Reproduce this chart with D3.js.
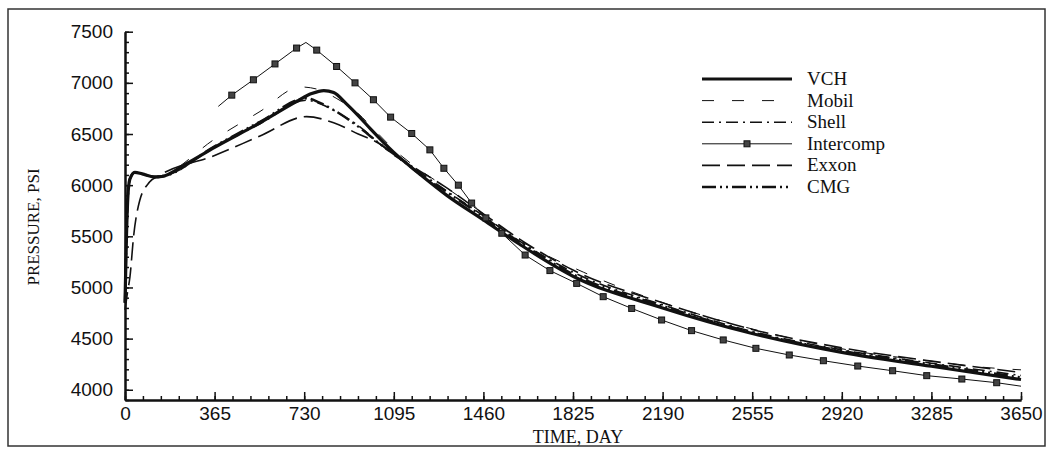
<!DOCTYPE html>
<html>
<head>
<meta charset="utf-8">
<script src="https://cdn.jsdelivr.net/npm/d3@7"></script>
<style>
  body { margin: 0; background: #fff; }
  svg { display: block; }
  .axis path, .axis line { stroke: #111; }
  .axis text { font-family: "Liberation Sans", Arial, sans-serif; font-size: 19px; fill: #111; }
  .title, .legend text { font-family: "Liberation Serif", "Times New Roman", serif; fill: #111; }
</style>
</head>
<body>
<svg id="chart"></svg>
<script>
// data: [day, psi]
const vchData = [[0,4850],[6,5500],[12,5900],[20,6060],[40,6125],[70,6110],[120,6080],[150,6085],
  [250,6210],[365,6370],[550,6610],[700,6820],[760,6895],[810,6925],[850,6905],[900,6800],
  [950,6680],[1000,6550],[1095,6320],[1200,6110],[1311,5900],[1460,5660],[1609,5420],
  [1825,5110],[2190,4800],[2555,4550],[2920,4365],[3285,4230],[3650,4100]]
const mobilData = [[0,4850],[6,5500],[12,5900],[20,6060],[40,6125],[70,6110],[120,6080],[150,6095],
  [365,6450],[550,6720],[715,6960],[780,6940],[860,6850],[950,6700],[1000,6580],[1095,6350],
  [1200,6150],[1300,5990],[1460,5720],[1609,5460],[1867,5150],[2180,4860],[2546,4600],
  [2777,4470],[3006,4365],[3250,4290],[3495,4220],[3650,4195]]
const shellData = [[0,4850],[6,5500],[12,5900],[20,6060],[40,6125],[70,6110],[120,6080],[150,6085],
  [365,6370],[550,6600],[740,6830],[800,6790],[880,6690],[957,6570],[1040,6400],[1120,6270],
  [1200,6130],[1300,5960],[1460,5700],[1609,5450],[1825,5150],[2190,4830],[2555,4570],
  [2920,4390],[3285,4260],[3650,4140]]
const intercompData = [[380,6770],[435,6880],[523,7030],[611,7185],[699,7340],[737,7395],
  [781,7320],[862,7160],[937,7000],[1012,6835],[1082,6665],[1168,6505],[1242,6345],[1299,6165],
  [1358,6000],[1412,5825],[1470,5680],[1535,5530],[1630,5317],[1731,5165],[1840,5040],
  [1948,4910],[2064,4795],[2186,4682],[2308,4578],[2437,4487],[2570,4405],[2706,4340],
  [2845,4284],[2985,4232],[3127,4186],[3266,4138],[3409,4105],[3551,4069],[3650,4035]]
const exxonData = [[0,4780],[10,4950],[20,5100],[35,5500],[60,5850],[100,6030],[140,6095],
  [365,6290],[550,6480],[740,6670],[850,6610],[950,6500],[1040,6400],[1095,6295],[1200,6140],
  [1300,5990],[1460,5720],[1609,5470],[1825,5170],[2190,4850],[2555,4590],[2920,4410],
  [3285,4280],[3650,4170]]
const cmgData = [[0,4850],[6,5500],[12,5900],[20,6060],[40,6125],[70,6110],[120,6080],[150,6085],
  [365,6380],[550,6620],[740,6850],[790,6810],[880,6690],[957,6560],[1040,6400],[1120,6260],
  [1200,6110],[1300,5950],[1460,5690],[1609,5440],[1825,5130],[2190,4820],[2555,4560],
  [2920,4380],[3285,4250],[3650,4120]]

const seriesNames = ['VCH', 'Mobil', 'Shell', 'Intercomp', 'Exxon', 'CMG']
const seriesData = [vchData, mobilData, shellData, intercompData, exxonData, cmgData]
const xTicks = [0, 365, 730, 1095, 1460, 1825, 2190, 2555, 2920, 3285, 3650]
const yTicks = [4000, 4500, 5000, 5500, 6000, 6500, 7000, 7500]

const W = 1053, H = 452
const svg = d3.select('#chart').attr('width', W).attr('height', H)

// scanned page frame
svg.append('rect')
    .attr('x', 8).attr('y', 9).attr('width', 1037).attr('height', 437)
    .attr('fill', 'none').attr('stroke', '#333').attr('stroke-width', 1.5)

const x = d3.scaleLinear().domain([0, 3650]).range([125, 1021])
const y = d3.scaleLinear().domain([3900, 7500]).range([400, 31.7])

// minor ticks
svg.append('g').attr('class', 'axis')
    .attr('transform', 'translate(125,0)')
    .call(d3.axisLeft(y).tickValues(d3.range(3900, 7501, 100)).tickSizeInner(-4).tickSizeOuter(0).tickFormat(''))
svg.append('g').attr('class', 'axis')
    .attr('transform', 'translate(0,400)')
    .call(d3.axisBottom(x).tickValues(d3.range(0, 3651, 73)).tickSizeInner(-4).tickSizeOuter(0).tickFormat(''))

// major axes
svg.append('g').attr('class', 'axis')
    .attr('transform', 'translate(125,0)')
    .call(d3.axisLeft(y).tickValues(yTicks).tickFormat(d3.format('d'))
      .tickSizeInner(-8).tickSizeOuter(0).tickPadding(12))
svg.append('g').attr('class', 'axis')
    .attr('transform', 'translate(0,400)')
    .call(d3.axisBottom(x).tickValues(xTicks).tickFormat(d3.format('d'))
      .tickSizeInner(-8).tickSizeOuter(0).tickPadding(7))

svg.selectAll('.axis path.domain').attr('stroke-width', 2)
svg.selectAll('.axis .tick line').attr('stroke-width', 1.5)

svg.append('text').attr('class', 'title')
    .attr('transform', 'translate(39,227) rotate(-90)')
    .attr('text-anchor', 'middle')
    .style('font-size', '17px')
    .text('PRESSURE, PSI')
svg.append('text').attr('class', 'title')
    .attr('x', 578).attr('y', 443)
    .attr('text-anchor', 'middle')
    .style('font-size', '18px')
    .text('TIME, DAY')

// line styles per series
const styles = {
  VCH:       { width: 3.2, dash: null,              curve: d3.curveMonotoneX },
  Mobil:     { width: 1,   dash: '12,18',           curve: d3.curveMonotoneX },
  Shell:     { width: 1.6, dash: '12,5,2,5',        curve: d3.curveMonotoneX },
  Intercomp: { width: 1,   dash: null,              curve: d3.curveLinear },
  Exxon:     { width: 1.6, dash: '18,7',            curve: d3.curveMonotoneX },
  CMG:       { width: 2.4, dash: '14,4,2,4,2,4',    curve: d3.curveMonotoneX }
}

const plot = svg.append('g')
seriesNames.forEach((name, i) => {
  const st = styles[name]
  const line = d3.line().x(d => x(d[0])).y(d => y(d[1])).curve(st.curve)
  plot.append('path')
      .datum(seriesData[i])
      .attr('fill', 'none')
      .attr('stroke', '#111')
      .attr('stroke-width', st.width)
      .attr('stroke-dasharray', st.dash)
      .attr('d', line)
})

// intercomp markers (not at the line's first, peak and last points)
const marks = intercompData.filter((d, i) => i > 0 && i < intercompData.length - 1 && d[0] !== 737)
plot.selectAll('rect.mark')
    .data(marks)
    .enter().append('rect')
    .attr('class', 'mark')
    .attr('x', d => x(d[0]) - 3)
    .attr('y', d => y(d[1]) - 3)
    .attr('width', 6).attr('height', 6)
    .attr('fill', '#444').attr('stroke', '#111').attr('stroke-width', 1)

// legend
const legend = svg.append('g').attr('class', 'legend')
seriesNames.forEach((name, i) => {
  const st = styles[name]
  const ly = 79 + i * 21.6
  legend.append('line')
      .attr('x1', 702).attr('x2', 792).attr('y1', ly).attr('y2', ly)
      .attr('stroke', '#111')
      .attr('stroke-width', st.width)
      .attr('stroke-dasharray', st.dash)
  if (name === 'Intercomp') {
    legend.append('rect')
        .attr('x', 744).attr('y', ly - 3).attr('width', 6).attr('height', 6)
        .attr('fill', '#444').attr('stroke', '#111')
  }
  legend.append('text')
      .attr('x', 807).attr('y', ly + 6)
      .style('font-size', '19px')
      .text(name)
})
</script>
</body>
</html>
